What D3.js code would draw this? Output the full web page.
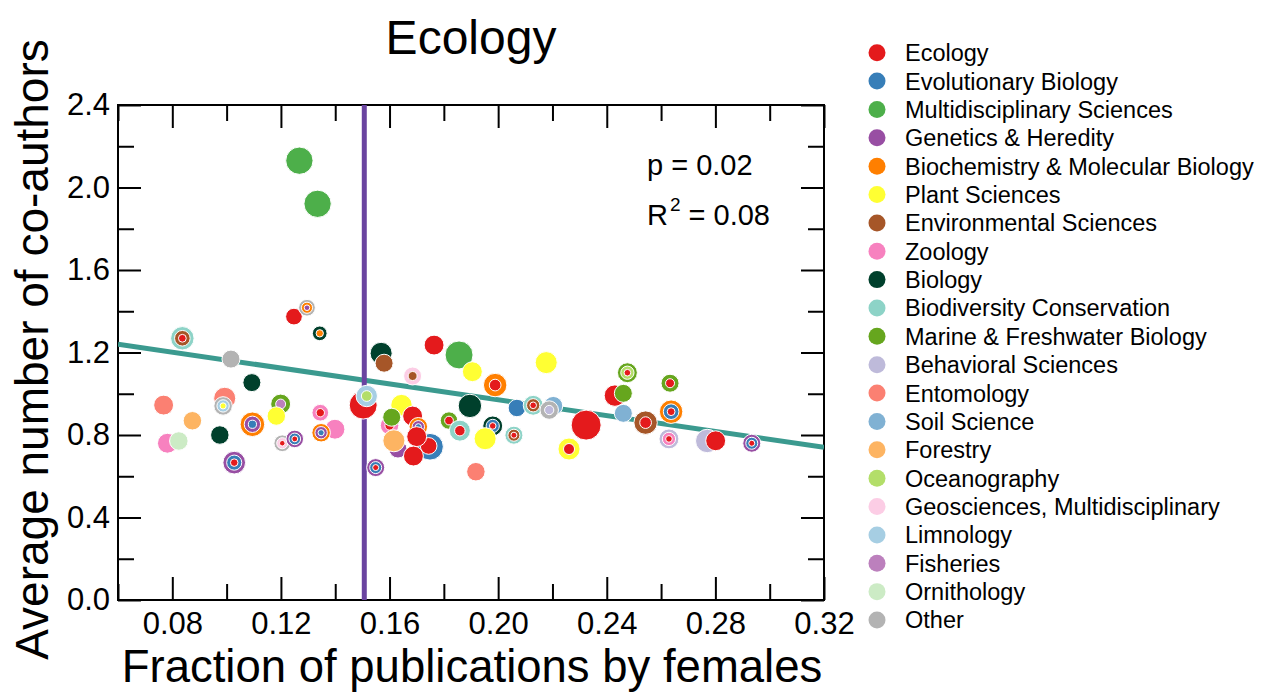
<!DOCTYPE html>
<html>
<head>
<meta charset="utf-8">
<script src="https://cdn.jsdelivr.net/npm/d3@7/dist/d3.min.js"></script>
<style>
  html, body { margin: 0; padding: 0; background: #fff; }
  svg { display: block; font-family: "Liberation Sans", Arial, Helvetica, sans-serif; }
</style>
</head>
<body>
<svg id="chart" width="1261" height="692"></svg>
<script>
// Subject categories and their colours (legend order)
const categories = [
  "Ecology", "Evolutionary Biology", "Multidisciplinary Sciences", "Genetics & Heredity",
  "Biochemistry & Molecular Biology", "Plant Sciences", "Environmental Sciences", "Zoology",
  "Biology", "Biodiversity Conservation", "Marine & Freshwater Biology", "Behavioral Sciences",
  "Entomology", "Soil Science", "Forestry", "Oceanography", "Geosciences, Multidisciplinary",
  "Limnology", "Fisheries", "Ornithology", "Other"
];
const categoryColors = [
  "#e41a1c", "#377eb8", "#4daf4a", "#984ea3", "#ff7f00", "#ffff33", "#a65628", "#f781bf",
  "#00402c", "#8dd3c7", "#66a61e", "#bebada", "#fb8072", "#80b1d3", "#fdb462", "#b3de69",
  "#fccde5", "#a6cee3", "#bc80bd", "#ccebc5", "#b3b3b3"
];

// Journals: fraction of publications by females, average number of co-authors,
// publication count (marker size) and subject categories (outer ring first)
const femaleFraction = [
  0.0837, 0.1248, 0.1296, 0.1343, 0.1016, 0.1093, 0.0768, 0.0993, 0.0987, 0.0874,
  0.1199, 0.1183, 0.0975, 0.0782, 0.0824, 0.1095, 0.1205, 0.1251, 0.1345, 0.1399,
  0.1348, 0.1028, 0.1503, 0.1516, 0.1268, 0.1335, 0.1549, 0.1644, 0.1600, 0.1608,
  0.1631, 0.1616, 0.1749, 0.1744, 0.1685, 0.1706, 0.1700, 0.1688, 0.1819, 0.1859,
  0.1896, 0.1569, 0.1580, 0.1685, 0.1764, 0.1856, 0.1905, 0.1989, 0.2177, 0.2069,
  0.2129, 0.2203, 0.2188, 0.2324, 0.1980, 0.2058, 0.1952, 0.2261, 0.1918, 0.2476,
  0.2430, 0.2461, 0.2633, 0.2461, 0.2543, 0.2637, 0.2629, 0.2770, 0.2801, 0.2934
];
const coAuthors = [
  1.269, 1.374, 1.417, 1.293, 1.168, 1.054, 0.945, 0.978, 0.941, 0.869,
  0.950, 0.892, 0.800, 0.760, 0.771, 0.852, 0.760, 0.781, 0.908, 0.828,
  0.811, 0.666, 0.945, 0.989, 2.130, 1.921, 0.642, 0.945, 0.846, 0.886,
  0.732, 0.772, 0.743, 0.747, 0.892, 0.840, 0.792, 0.698, 0.870, 0.821,
  0.941, 1.196, 1.148, 1.086, 1.236, 1.188, 1.107, 1.042, 1.151, 0.931,
  0.944, 0.941, 0.921, 0.848, 0.844, 0.799, 0.782, 0.732, 0.622, 1.102,
  0.991, 1.002, 1.051, 0.905, 0.860, 0.913, 0.781, 0.771, 0.772, 0.760
];
const publications = [
  61, 31, 31, 24, 36, 36, 44, 54, 38, 38,
  44, 38, 38, 44, 38, 67, 31, 34, 31, 44,
  38, 57, 87, 51, 83, 83, 36, 51, 38, 36,
  36, 54, 79, 31, 44, 38, 44, 44, 34, 49,
  61, 54, 36, 36, 44, 87, 44, 61, 54, 34,
  44, 40, 38, 100, 44, 36, 54, 54, 38, 44,
  51, 36, 36, 36, 61, 61, 44, 61, 44, 36
];
const journalCategories = [
  ["Biodiversity Conservation", "Environmental Sciences", "Ecology"],
  ["Ecology"],
  ["Other", "Biochemistry & Molecular Biology", "Genetics & Heredity"],
  ["Biology", "Biochemistry & Molecular Biology"],
  ["Other"],
  ["Biology"],
  ["Entomology"],
  ["Entomology"],
  ["Other", "Limnology", "Plant Sciences"],
  ["Forestry"],
  ["Marine & Freshwater Biology", "Fisheries"],
  ["Plant Sciences"],
  ["Biology"],
  ["Zoology"],
  ["Ornithology"],
  ["Biochemistry & Molecular Biology", "Genetics & Heredity", "Evolutionary Biology"],
  ["Other", "Geosciences, Multidisciplinary", "Ecology"],
  ["Genetics & Heredity", "Evolutionary Biology", "Ecology"],
  ["Zoology", "Ecology"],
  ["Zoology"],
  ["Biochemistry & Molecular Biology", "Genetics & Heredity", "Evolutionary Biology"],
  ["Genetics & Heredity", "Evolutionary Biology", "Ecology"],
  ["Ecology"],
  ["Limnology", "Oceanography"],
  ["Multidisciplinary Sciences"],
  ["Multidisciplinary Sciences"],
  ["Genetics & Heredity", "Evolutionary Biology", "Ecology"],
  ["Plant Sciences"],
  ["Zoology", "Ecology"],
  ["Marine & Freshwater Biology"],
  ["Genetics & Heredity"],
  ["Forestry"],
  ["Evolutionary Biology"],
  ["Ecology"],
  ["Ecology"],
  ["Biochemistry & Molecular Biology", "Genetics & Heredity", "Evolutionary Biology"],
  ["Ecology"],
  ["Ecology"],
  ["Marine & Freshwater Biology", "Ecology"],
  ["Biodiversity Conservation", "Ecology"],
  ["Biology"],
  ["Biology"],
  ["Environmental Sciences"],
  ["Geosciences, Multidisciplinary", "Environmental Sciences"],
  ["Ecology"],
  ["Multidisciplinary Sciences"],
  ["Plant Sciences"],
  ["Biochemistry & Molecular Biology", "Ecology"],
  ["Plant Sciences"],
  ["Evolutionary Biology"],
  ["Biodiversity Conservation", "Environmental Sciences", "Ecology"],
  ["Soil Science"],
  ["Other", "Behavioral Sciences"],
  ["Ecology"],
  ["Biology", "Evolutionary Biology", "Ecology"],
  ["Biodiversity Conservation", "Environmental Sciences", "Ecology"],
  ["Plant Sciences"],
  ["Plant Sciences", "Ecology"],
  ["Entomology"],
  ["Marine & Freshwater Biology", "Oceanography", "Ecology"],
  ["Ecology"],
  ["Marine & Freshwater Biology"],
  ["Marine & Freshwater Biology", "Ecology"],
  ["Soil Science"],
  ["Environmental Sciences", "Ecology"],
  ["Biochemistry & Molecular Biology", "Evolutionary Biology", "Ecology"],
  ["Behavioral Sciences", "Zoology", "Ecology"],
  ["Behavioral Sciences"],
  ["Ecology"],
  ["Genetics & Heredity", "Evolutionary Biology", "Ecology"]
];

// Linear fit and reference fraction
const fitIntercept = 1.355;
const fitSlope = -1.92;
const referenceFraction = 0.1507;
const pValueText = "p = 0.02";
const r2Value = "0.08";

// Axis ticks
const xMajorTicks = [0.08, 0.12, 0.16, 0.20, 0.24, 0.28, 0.32];
const xMinorTicks = [0.06, 0.10, 0.14, 0.18, 0.22, 0.26, 0.30];
const yMajorTicks = [0.0, 0.4, 0.8, 1.2, 1.6, 2.0, 2.4];
const yMinorTicks = [0.2, 0.6, 1.0, 1.4, 1.8, 2.2];

const svg = d3.select("#chart");
const plotLeft = 118, plotRight = 824, plotTop = 105, plotBottom = 600;

const x = d3.scaleLinear().domain([0.06, 0.32]).range([plotLeft, plotRight]);
const y = d3.scaleLinear().domain([0, 2.4]).range([plotBottom, plotTop]);
const r = d3.scaleSqrt().domain([0, 100]).range([0, 15]);
const color = d3.scaleOrdinal().domain(categories).range(categoryColors);

// Title
svg.append("text")
  .attr("x", (plotLeft + plotRight) / 2).attr("y", 54)
  .attr("text-anchor", "middle")
  .attr("font-size", 48)
  .text("Ecology");

// Inward ticks on all four sides
function styleAxis(g) {
  g.select(".domain").remove();
  g.selectAll(".tick line").attr("stroke", "#000").attr("stroke-width", 2);
}
const majorLen = 23, minorLen = 16;

svg.append("g").attr("transform", `translate(0,${plotBottom})`)
  .call(d3.axisBottom(x).tickValues(xMajorTicks).tickSize(-majorLen).tickPadding(12)
    .tickFormat(d3.format(".2f")))
  .call(styleAxis)
  .call(g => g.selectAll(".tick text").attr("font-size", 31).attr("fill", "#000")
    .attr("font-family", "Liberation Sans, Arial, sans-serif"));
svg.append("g").attr("transform", `translate(0,${plotBottom})`)
  .call(d3.axisBottom(x).tickValues(xMinorTicks).tickSize(-minorLen).tickFormat(""))
  .call(styleAxis);
svg.append("g").attr("transform", `translate(0,${plotTop})`)
  .call(d3.axisTop(x).tickValues(xMajorTicks).tickSize(-majorLen).tickFormat(""))
  .call(styleAxis);
svg.append("g").attr("transform", `translate(0,${plotTop})`)
  .call(d3.axisTop(x).tickValues(xMinorTicks).tickSize(-minorLen).tickFormat(""))
  .call(styleAxis);

svg.append("g").attr("transform", `translate(${plotLeft},0)`)
  .call(d3.axisLeft(y).tickValues(yMajorTicks).tickSize(-majorLen).tickPadding(8)
    .tickFormat(d3.format(".1f")))
  .call(styleAxis)
  .call(g => g.selectAll(".tick text").attr("font-size", 31).attr("fill", "#000")
    .attr("font-family", "Liberation Sans, Arial, sans-serif"));
svg.append("g").attr("transform", `translate(${plotLeft},0)`)
  .call(d3.axisLeft(y).tickValues(yMinorTicks).tickSize(-minorLen).tickFormat(""))
  .call(styleAxis);
svg.append("g").attr("transform", `translate(${plotRight},0)`)
  .call(d3.axisRight(y).tickValues(yMajorTicks).tickSize(-majorLen).tickFormat(""))
  .call(styleAxis);
svg.append("g").attr("transform", `translate(${plotRight},0)`)
  .call(d3.axisRight(y).tickValues(yMinorTicks).tickSize(-minorLen).tickFormat(""))
  .call(styleAxis);

// Plot frame
svg.append("rect")
  .attr("x", plotLeft).attr("y", plotTop)
  .attr("width", plotRight - plotLeft).attr("height", plotBottom - plotTop)
  .attr("fill", "none").attr("stroke", "#000").attr("stroke-width", 2);

// Axis titles
svg.append("text")
  .attr("x", (plotLeft + plotRight) / 2 + 1).attr("y", 682)
  .attr("text-anchor", "middle").attr("font-size", 45.5)
  .text("Fraction of publications by females");
svg.append("text")
  .attr("transform", `translate(48,${(plotTop + plotBottom) / 2 - 3}) rotate(-90)`)
  .attr("text-anchor", "middle").attr("font-size", 46)
  .text("Average number of co-authors");

// Clip region for lines
svg.append("clipPath").attr("id", "plot-clip")
  .append("rect").attr("x", plotLeft).attr("y", plotTop)
  .attr("width", plotRight - plotLeft).attr("height", plotBottom - plotTop);

// Regression line
const [x0, x1] = x.domain();
svg.append("line")
  .attr("clip-path", "url(#plot-clip)")
  .attr("x1", x(x0)).attr("y1", y(fitIntercept + fitSlope * x0))
  .attr("x2", x(x1)).attr("y2", y(fitIntercept + fitSlope * x1))
  .attr("stroke", "#3b9a8f").attr("stroke-width", 5);

// Reference fraction
svg.append("line")
  .attr("x1", x(referenceFraction)).attr("x2", x(referenceFraction))
  .attr("y1", y(2.4)).attr("y2", y(0))
  .attr("stroke", "#6a44a0").attr("stroke-width", 5);

// Journals: concentric rings, one per subject category
const journals = femaleFraction.map((f, i) => ({
  f, c: coAuthors[i], n: publications[i], cats: journalCategories[i]
}));
const nodes = svg.append("g").selectAll("g")
  .data(journals).join("g")
  .attr("transform", d => `translate(${x(d.f)},${y(d.c)})`);
nodes.selectAll("circle")
  .data(d => d.cats.map((cat, k) => ({ cat, radius: r(d.n) * (d.cats.length - k) / d.cats.length })))
  .join("circle")
  .attr("r", d => d.radius)
  .attr("fill", d => color(d.cat))
  .attr("stroke", "#fff").attr("stroke-width", 1);

// Fit statistics
const stats = svg.append("g").attr("font-size", 29);
stats.append("text").attr("x", 647).attr("y", 175).text(pValueText);
const r2 = stats.append("text").attr("x", 647).attr("y", 225);
r2.append("tspan").text("R");
r2.append("tspan").attr("font-size", 19).attr("dy", -14).attr("dx", 2).text("2");
r2.append("tspan").attr("dy", 14).attr("dx", 8).text("= " + r2Value);

// Legend
const ly = d3.scalePoint().domain(categories).range([52.7, 620]);
const legend = svg.append("g").selectAll("g")
  .data(categories).join("g")
  .attr("transform", d => `translate(877,${ly(d)})`);
legend.append("circle").attr("r", 8.5).attr("fill", d => color(d));
legend.append("text")
  .attr("x", 28).attr("dy", "0.36em")
  .attr("font-size", 23.5)
  .text(d => d);
</script>
</body>
</html>
